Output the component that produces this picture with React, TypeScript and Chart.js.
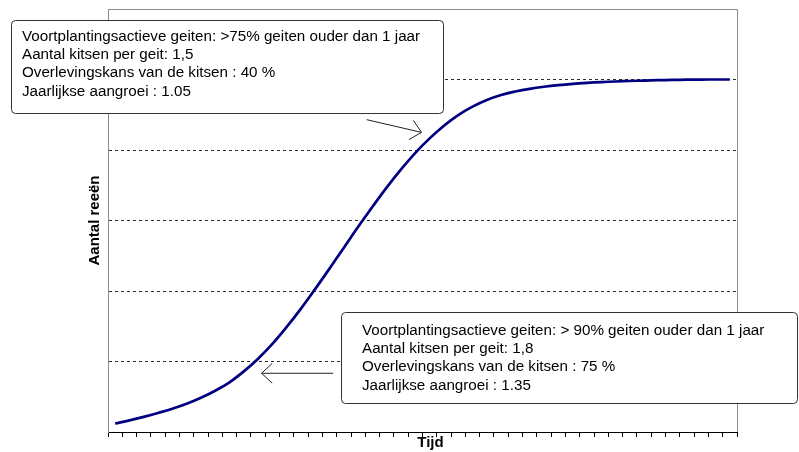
import React, { useEffect, useRef } from "react";
import { Chart, registerables } from "chart.js";

Chart.register(...registerables);

// ---- Data ----
const timeLabels: string[] = Array.from({ length: 44 }, () => "");
const populationValues: number[] = [
  0.12, 0.165, 0.215, 0.27, 0.33, 0.4, 0.485, 0.585, 0.705, 0.86,
  1.04, 1.25, 1.49, 1.75, 2.03, 2.32, 2.615, 2.91, 3.195, 3.47,
  3.725, 3.96, 4.165, 4.345, 4.495, 4.615, 4.71, 4.78, 4.83, 4.868,
  4.897, 4.92, 4.938, 4.952, 4.963, 4.972, 4.979, 4.985, 4.99, 4.994,
  4.997, 4.999, 5.0, 5.0,
];
const yMin = 0;
const yMax = 6;

const xTitle = "Tijd";
const yTitle = "Aantal reeën";

const upperNote: string[] = [
  "Voortplantingsactieve geiten: >75% geiten ouder dan 1 jaar",
  "Aantal kitsen per geit: 1,5",
  "Overlevingskans van de kitsen : 40 %",
  "Jaarlijkse aangroei : 1.05",
];
const lowerNote: string[] = [
  "Voortplantingsactieve geiten: > 90% geiten ouder dan 1 jaar",
  "Aantal kitsen per geit: 1,8",
  "Overlevingskans van de kitsen : 75 %",
  "Jaarlijkse aangroei : 1.35",
];
// arrows in data coordinates: [fromIndex, fromValue, toIndex, toValue]
const upperArrow: number[] = [17.6, 4.43, 21.43, 4.25];
const lowerArrow: number[] = [15.25, 0.833, 10.24, 0.833];

const FONT = '"Liberation Sans", Arial, sans-serif';

const notesPlugin = {
  id: "notes",
  afterDraw(chart: any) {
    const { ctx, chartArea: a, scales } = chart;
    const xs = scales.x;
    const ys = scales.y;
    ctx.save();

    // frame top & right
    ctx.strokeStyle = "#8a8a8a";
    ctx.lineWidth = 1;
    ctx.setLineDash([]);
    ctx.beginPath();
    ctx.moveTo(Math.round(a.left), Math.round(a.top) + 0.5);
    ctx.lineTo(Math.round(a.right) + 0.5, Math.round(a.top) + 0.5);
    ctx.lineTo(Math.round(a.right) + 0.5, Math.round(a.bottom));
    ctx.stroke();

    const drawBox = (x: number, y: number, w: number, h: number, lines: string[], tx: number, ty: number) => {
      ctx.beginPath();
      (ctx as any).roundRect(x + 0.5, y + 0.5, w, h, 4);
      ctx.fillStyle = "#ffffff";
      ctx.fill();
      ctx.strokeStyle = "#333333";
      ctx.lineWidth = 1;
      ctx.stroke();
      ctx.fillStyle = "#000000";
      ctx.font = `15.2px ${FONT}`;
      ctx.textBaseline = "alphabetic";
      ctx.textAlign = "left";
      lines.forEach((l, i) => ctx.fillText(l, tx, ty + i * 18.35));
    };

    drawBox(11, 20, 432, 93, upperNote, 22, 40.5);
    drawBox(341, 312, 456, 91, lowerNote, 362, 334.5);

    const drawArrow = (arr: number[]) => {
      const x1 = xs.getPixelForValue(arr[0]);
      const y1 = ys.getPixelForValue(arr[1]);
      const x2 = xs.getPixelForValue(arr[2]);
      const y2 = ys.getPixelForValue(arr[3]);
      const ang = Math.atan2(y2 - y1, x2 - x1);
      const len = 14.5;
      const spread = Math.PI / 4.2;
      ctx.strokeStyle = "#222222";
      ctx.lineWidth = 1;
      ctx.beginPath();
      ctx.moveTo(x1, y1);
      ctx.lineTo(x2, y2);
      ctx.moveTo(x2 - len * Math.cos(ang - spread), y2 - len * Math.sin(ang - spread));
      ctx.lineTo(x2, y2);
      ctx.lineTo(x2 - len * Math.cos(ang + spread), y2 - len * Math.sin(ang + spread));
      ctx.stroke();
    };
    drawArrow(upperArrow);
    drawArrow(lowerArrow);

    // x title
    ctx.fillStyle = "#000000";
    ctx.font = `bold 15px ${FONT}`;
    ctx.textAlign = "center";
    ctx.textBaseline = "middle";
    ctx.fillText(xTitle, (a.left + a.right) / 2 + 8, 443);

    ctx.restore();
  },
};

export default function App() {
  const canvasRef = useRef<HTMLCanvasElement | null>(null);

  useEffect(() => {
    if (!canvasRef.current) return;
    const chart = new Chart(canvasRef.current, {
      type: "line",
      data: {
        labels: timeLabels,
        datasets: [
          {
            data: populationValues,
            borderColor: "#000080",
            borderWidth: 2.7,
            pointRadius: 0,
            fill: false,
            tension: 0.4,
          },
        ],
      },
      options: {
        animation: false,
        responsive: false,
        maintainAspectRatio: false,
        layout: { padding: { left: 86, right: 62, top: 9, bottom: 0 } },
        plugins: {
          legend: { display: false },
          tooltip: { enabled: false },
          title: { display: false },
        },
        scales: {
          x: {
            type: "category",
            offset: true,
            grid: {
              offset: true,
              drawOnChartArea: false,
              drawTicks: true,
              tickLength: 5,
              color: "#000000",
            },
            border: { display: true, color: "#000000", width: 1 },
            ticks: { display: false, autoSkip: false },
            afterFit: (s: any) => {
              s.height = 20;
            },
          },
          y: {
            min: yMin,
            max: yMax,
            ticks: { display: false, stepSize: 1 },
            grid: {
              drawTicks: false,
              color: (c: any) =>
                c.tick && (c.tick.value === yMin || c.tick.value === yMax)
                  ? "rgba(0,0,0,0)"
                  : "#2a2a2a",
              lineWidth: 1,
            },
            border: { display: true, color: "#8a8a8a", width: 1, dash: [3, 3] },
            title: {
              display: true,
              text: yTitle,
              color: "#000000",
              font: { family: FONT, size: 15, weight: "bold" },
              padding: 0,
            },
            afterFit: (s: any) => {
              s.width = 22;
            },
          },
        },
      },
      plugins: [notesPlugin],
    });
    return () => chart.destroy();
  }, []);

  return (
    <div style={{ position: "absolute", left: 0, top: 0, width: 799, height: 452, background: "#fff" }}>
      <canvas ref={canvasRef} width={799} height={452} style={{ width: 799, height: 452, display: "block" }} />
    </div>
  );
}
